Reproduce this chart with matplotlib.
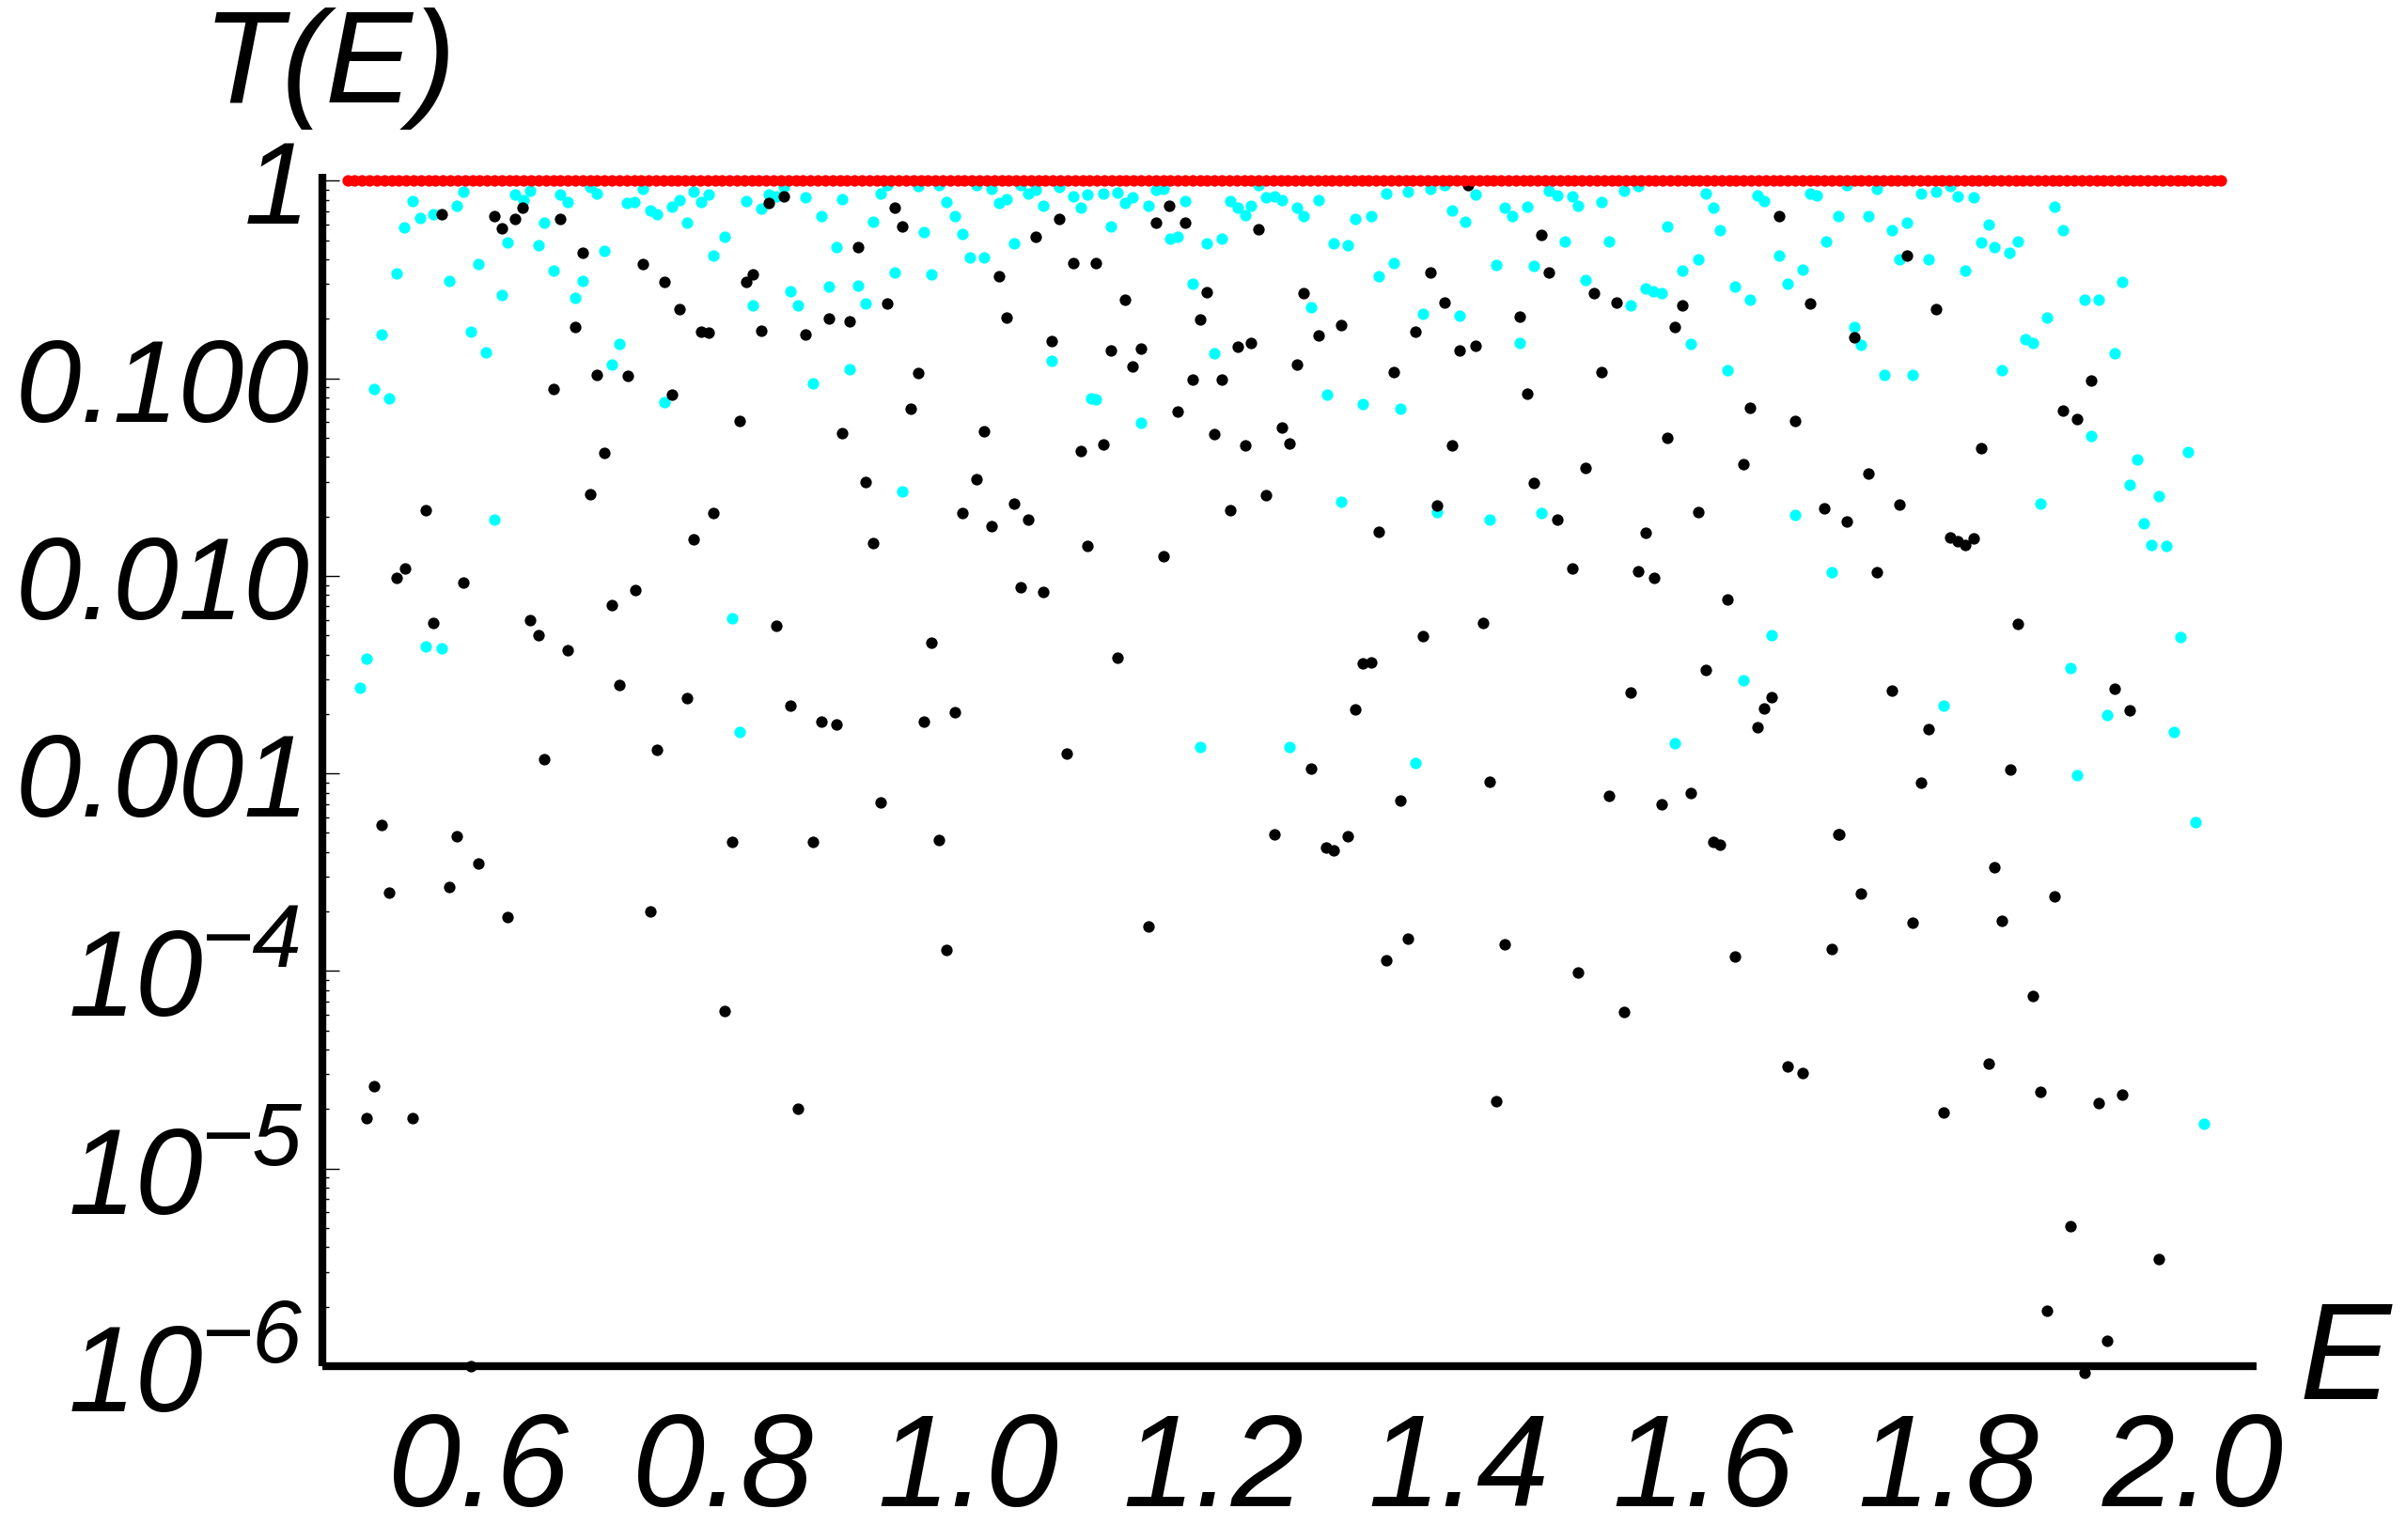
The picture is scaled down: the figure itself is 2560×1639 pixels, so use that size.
import matplotlib
matplotlib.use("Agg")
import matplotlib.pyplot as plt
import matplotlib.transforms as mtransforms
from matplotlib.ticker import FixedLocator, FixedFormatter, LogLocator, NullFormatter

# ---------------- data ----------------
# red series: T(E) = 1 on the full energy grid
red_E = [
    0.493, 0.499, 0.505, 0.511, 0.517, 0.523, 0.529, 0.535, 0.541, 0.547, 0.553, 0.559, 0.565, 0.571, 0.577, 0.583,
    0.589, 0.595, 0.601, 0.607, 0.613, 0.619, 0.625, 0.631, 0.637, 0.643, 0.649, 0.655, 0.661, 0.667, 0.673, 0.679,
    0.685, 0.691, 0.697, 0.703, 0.709, 0.715, 0.721, 0.727, 0.733, 0.739, 0.745, 0.751, 0.757, 0.763, 0.769, 0.775,
    0.781, 0.787, 0.793, 0.799, 0.805, 0.811, 0.817, 0.823, 0.829, 0.835, 0.841, 0.847, 0.853, 0.859, 0.865, 0.871,
    0.877, 0.883, 0.889, 0.895, 0.901, 0.907, 0.913, 0.919, 0.925, 0.931, 0.937, 0.943, 0.949, 0.955, 0.961, 0.967,
    0.973, 0.979, 0.985, 0.991, 0.997, 1.003, 1.009, 1.015, 1.021, 1.027, 1.033, 1.039, 1.045, 1.051, 1.057, 1.063,
    1.069, 1.075, 1.081, 1.087, 1.093, 1.099, 1.105, 1.111, 1.117, 1.123, 1.129, 1.135, 1.141, 1.147, 1.153, 1.159,
    1.165, 1.171, 1.177, 1.183, 1.189, 1.195, 1.201, 1.207, 1.213, 1.219, 1.225, 1.231, 1.237, 1.243, 1.249, 1.255,
    1.261, 1.267, 1.273, 1.279, 1.285, 1.291, 1.297, 1.303, 1.309, 1.315, 1.321, 1.327, 1.333, 1.339, 1.345, 1.351,
    1.357, 1.363, 1.369, 1.375, 1.381, 1.387, 1.393, 1.399, 1.405, 1.411, 1.417, 1.423, 1.429, 1.435, 1.441, 1.447,
    1.453, 1.459, 1.465, 1.471, 1.477, 1.483, 1.489, 1.495, 1.501, 1.507, 1.513, 1.519, 1.525, 1.531, 1.537, 1.543,
    1.549, 1.555, 1.561, 1.567, 1.573, 1.579, 1.585, 1.591, 1.597, 1.603, 1.609, 1.615, 1.621, 1.627, 1.633, 1.639,
    1.645, 1.651, 1.657, 1.663, 1.669, 1.675, 1.681, 1.687, 1.693, 1.699, 1.705, 1.711, 1.717, 1.723, 1.729, 1.735,
    1.741, 1.747, 1.753, 1.759, 1.765, 1.771, 1.777, 1.783, 1.789, 1.795, 1.801, 1.807, 1.813, 1.819, 1.825, 1.831,
    1.837, 1.843, 1.849, 1.855, 1.861, 1.867, 1.873, 1.879, 1.885, 1.891, 1.897, 1.903, 1.909, 1.915, 1.921, 1.927,
    1.933, 1.939, 1.945, 1.951, 1.957, 1.963, 1.969, 1.975, 1.981, 1.987, 1.993, 1.999, 2.005, 2.011, 2.017, 2.023,
]
red_T = [1.0] * len(red_E)

# black series (E, T)
black_pts = [
    (0.570, 0.68), (0.613, 0.66), (0.619, 0.575), (0.630, 0.64), (0.636, 0.73), (0.667, 0.64),
    (0.685, 0.43), (0.734, 0.38), (0.752, 0.306), (0.764, 0.223), (0.679, 0.182), (0.782, 0.172),
    (0.788, 0.170), (0.697, 0.104), (0.722, 0.103), (0.661, 0.0886), (0.758, 0.083), (0.703, 0.0418),
    (0.691, 0.026), (0.557, 0.0215), (0.792, 0.0207), (0.776, 0.0153), (0.540, 0.0109), (0.533, 0.0098),
    (0.588, 0.0093), (0.728, 0.0085), (0.709, 0.0071), (0.563, 0.0058), (0.642, 0.0060), (0.649, 0.0050),
    (0.673, 0.0042), (0.715, 0.0028), (0.770, 0.0024), (0.746, 0.00132), (0.654, 0.00118),
    (0.521, 5.5e-4), (0.582, 4.8e-4), (0.600, 3.5e-4), (0.527, 2.5e-4), (0.576, 2.65e-4), (0.624, 1.87e-4),
    (0.740, 2.0e-4), (0.515, 2.6e-5), (0.509, 1.8e-5), (0.546, 1.8e-5), (0.594, 1.0e-6),
    (0.837, 0.77), (0.849, 0.83), (0.940, 0.73), (0.946, 0.59), (0.910, 0.46), (1.074, 0.64),
    (1.055, 0.52), (1.086, 0.385), (0.824, 0.336), (0.819, 0.306), (1.025, 0.33), (0.934, 0.239),
    (0.886, 0.20), (0.903, 0.194), (1.031, 0.204), (0.831, 0.174), (0.867, 0.166), (1.068, 0.154),
    (0.959, 0.106), (0.953, 0.070), (0.813, 0.061), (0.897, 0.053), (1.013, 0.054), (1.092, 0.043),
    (0.916, 0.0298), (1.007, 0.0307), (1.037, 0.0231), (0.995, 0.0208), (1.049, 0.0193), (1.019, 0.0178),
    (0.922, 0.0147), (1.097, 0.0142), (1.043, 0.0088), (1.061, 0.0083), (0.843, 0.0056), (0.970, 0.0046),
    (0.855, 0.0022), (0.880, 0.00182), (0.892, 0.00178), (0.964, 0.00183), (0.989, 0.00205), (1.080, 0.00126),
    (0.928, 7.1e-4), (0.807, 4.5e-4), (0.873, 4.5e-4), (0.976, 4.6e-4), (0.982, 1.28e-4), (0.801, 6.3e-5),
    (0.861, 2.0e-5),
    (1.164, 0.75), (1.153, 0.615), (1.177, 0.615), (1.237, 0.57), (1.104, 0.385), (1.128, 0.25),
    (1.195, 0.274), (1.274, 0.27), (1.189, 0.198), (1.304, 0.185), (1.286, 0.164), (1.377, 0.345),
    (1.389, 0.243), (1.365, 0.172), (1.401, 0.138), (1.116, 0.138), (1.141, 0.141), (1.134, 0.115),
    (1.220, 0.144), (1.231, 0.151), (1.268, 0.117), (1.183, 0.0986), (1.207, 0.0986), (1.347, 0.108),
    (1.171, 0.068), (1.201, 0.052), (1.226, 0.046), (1.256, 0.0565), (1.262, 0.047), (1.110, 0.0465),
    (1.395, 0.0457), (1.243, 0.0255), (1.214, 0.0215), (1.383, 0.0228), (1.335, 0.0167), (1.159, 0.0126),
    (1.371, 0.00495), (1.122, 0.00385), (1.322, 0.0036), (1.329, 0.00365), (1.316, 0.0021),
    (1.280, 1.06e-3), (1.353, 7.3e-4), (1.250, 4.9e-4), (1.310, 4.8e-4), (1.292, 4.2e-4), (1.298, 4.1e-4),
    (1.147, 1.69e-4), (1.359, 1.46e-4), (1.341, 1.13e-4),
    (1.408, 0.95), (1.468, 0.53), (1.474, 0.345), (1.511, 0.27), (1.529, 0.243), (1.583, 0.235),
    (1.662, 0.66), (1.687, 0.24), (1.450, 0.205), (1.577, 0.182), (1.414, 0.146), (1.517, 0.108),
    (1.456, 0.0836), (1.638, 0.071), (1.675, 0.061), (1.571, 0.050), (1.504, 0.035), (1.633, 0.0366),
    (1.462, 0.0294), (1.481, 0.0193), (1.596, 0.021), (1.699, 0.0219), (1.553, 0.0165), (1.493, 0.0109),
    (1.547, 0.0106), (1.560, 0.0098), (1.620, 0.0076), (1.420, 0.00575), (1.602, 0.00333), (1.541, 0.00256),
    (1.656, 0.00243), (1.650, 0.00214), (1.644, 0.00172),
    (1.426, 9.1e-4), (1.523, 7.7e-4), (1.566, 7.0e-4), (1.590, 8.0e-4), (1.608, 4.5e-4), (1.614, 4.35e-4),
    (1.710, 4.9e-4), (1.438, 1.36e-4), (1.498, 9.8e-5), (1.535, 6.2e-5), (1.626, 1.19e-4), (1.705, 1.29e-4),
    (1.669, 3.3e-5), (1.681, 3.04e-5), (1.431, 2.2e-5),
    (1.766, 0.42), (1.790, 0.223), (1.723, 0.161), (1.917, 0.097), (1.894, 0.0687), (1.905, 0.0623),
    (1.827, 0.0445), (1.735, 0.0329), (1.760, 0.0229), (1.717, 0.0189), (1.802, 0.0156), (1.808, 0.015),
    (1.814, 0.0143), (1.821, 0.0154), (1.742, 0.0104), (1.857, 0.0057), (1.754, 0.00264), (1.784, 0.00168),
    (1.936, 0.00267), (1.948, 0.00209),
    (1.851, 1.05e-3), (1.778, 9.0e-4), (1.711, 4.9e-4), (1.838, 3.36e-4), (1.729, 2.48e-4), (1.887, 2.4e-4),
    (1.771, 1.75e-4), (1.844, 1.8e-4), (1.869, 7.5e-5), (1.833, 3.4e-5), (1.875, 2.45e-5), (1.923, 2.14e-5),
    (1.942, 2.37e-5), (1.796, 1.92e-5), (1.900, 5.1e-6), (1.972, 3.5e-6), (1.881, 1.91e-6), (1.930, 1.35e-6),
    (1.911, 9.3e-7),
]

# cyan series (E, T)
cyan_pts = [
    (0.546, 0.79), (0.539, 0.58), (0.552, 0.65), (0.563, 0.68), (0.582, 0.75), (0.588, 0.88),
    (0.630, 0.85), (0.637, 0.80), (0.642, 0.89), (0.654, 0.61), (0.667, 0.85), (0.673, 0.78),
    (0.691, 0.93), (0.697, 0.86), (0.721, 0.77), (0.727, 0.78), (0.734, 0.91), (0.740, 0.71),
    (0.746, 0.68), (0.758, 0.74), (0.764, 0.80), (0.770, 0.61), (0.776, 0.88), (0.782, 0.78),
    (0.788, 0.85), (0.624, 0.485), (0.649, 0.47), (0.703, 0.44), (0.792, 0.42), (0.600, 0.38),
    (0.533, 0.34), (0.576, 0.31), (0.661, 0.35), (0.685, 0.31), (0.619, 0.265), (0.679, 0.254),
    (0.521, 0.166), (0.594, 0.172), (0.606, 0.135), (0.715, 0.149), (0.709, 0.117), (0.515, 0.0886),
    (0.527, 0.079), (0.752, 0.076), (0.613, 0.0193), (0.557, 0.0044), (0.570, 0.0043), (0.509, 0.0038),
    (0.503, 0.0027),
    (0.801, 0.52), (0.819, 0.79), (0.831, 0.72), (0.837, 0.85), (0.843, 0.83), (0.849, 0.925),
    (0.867, 0.82), (0.880, 0.66), (0.892, 0.46), (0.897, 0.81), (0.922, 0.62), (0.928, 0.86),
    (0.934, 0.95), (0.959, 0.94), (0.964, 0.55), (0.976, 0.95), (0.982, 0.78), (0.989, 0.66),
    (0.995, 0.54), (1.001, 0.41), (1.013, 0.41), (1.007, 0.95), (1.019, 0.91), (1.025, 0.77),
    (1.031, 0.81), (1.037, 0.48), (1.043, 0.95), (1.049, 0.86), (1.055, 0.90), (1.061, 0.75),
    (1.074, 0.925), (1.086, 0.83), (1.092, 0.73), (1.097, 0.85), (0.940, 0.345), (0.970, 0.334),
    (0.855, 0.277), (0.886, 0.29), (0.910, 0.294), (0.824, 0.235), (0.861, 0.233), (0.916, 0.239),
    (1.068, 0.122), (0.903, 0.111), (0.873, 0.094), (1.100, 0.079), (0.946, 0.0267), (0.807, 0.0061),
    (0.813, 0.00162),
    (1.110, 0.865), (1.122, 0.87), (1.128, 0.77), (1.134, 0.82), (1.147, 0.75), (1.153, 0.90),
    (1.159, 0.91), (1.116, 0.59), (1.165, 0.51), (1.171, 0.52), (1.177, 0.79), (1.195, 0.48),
    (1.207, 0.51), (1.214, 0.79), (1.220, 0.73), (1.226, 0.67), (1.231, 0.75), (1.237, 0.95),
    (1.243, 0.82), (1.250, 0.83), (1.256, 0.80), (1.268, 0.73), (1.274, 0.66), (1.286, 0.80),
    (1.298, 0.48), (1.310, 0.47), (1.316, 0.64), (1.329, 0.66), (1.341, 0.86), (1.359, 0.88),
    (1.377, 0.91), (1.389, 0.95), (1.395, 0.71), (1.406, 0.62), (1.183, 0.30), (1.280, 0.228),
    (1.335, 0.33), (1.347, 0.385), (1.371, 0.213), (1.401, 0.207), (1.201, 0.134), (1.104, 0.0785),
    (1.141, 0.0596), (1.293, 0.083), (1.322, 0.074), (1.353, 0.070), (1.304, 0.0237), (1.383, 0.021),
    (1.189, 0.00136), (1.262, 0.00136), (1.365, 0.00113),
    (1.414, 0.855), (1.438, 0.73), (1.444, 0.66), (1.456, 0.74), (1.474, 0.885), (1.481, 0.84),
    (1.493, 0.83), (1.498, 0.75), (1.517, 0.78), (1.535, 0.89), (1.547, 0.94), (1.571, 0.59),
    (1.602, 0.86), (1.608, 0.73), (1.614, 0.56), (1.644, 0.84), (1.650, 0.79), (1.687, 0.865),
    (1.693, 0.84), (1.710, 0.66), (1.700, 0.49), (1.487, 0.49), (1.523, 0.49), (1.431, 0.375),
    (1.462, 0.37), (1.504, 0.315), (1.553, 0.284), (1.559, 0.277), (1.566, 0.27), (1.541, 0.235),
    (1.583, 0.35), (1.596, 0.40), (1.626, 0.29), (1.638, 0.25), (1.662, 0.42), (1.681, 0.356),
    (1.669, 0.30), (1.450, 0.151), (1.590, 0.150), (1.620, 0.110), (1.426, 0.0193), (1.468, 0.0207),
    (1.675, 0.0203), (1.705, 0.0104), (1.656, 0.0050), (1.633, 0.00296), (1.577, 0.00143),
    (1.717, 0.95), (1.742, 0.905), (1.735, 0.66), (1.754, 0.56), (1.766, 0.61), (1.760, 0.40),
    (1.778, 0.86), (1.790, 0.88), (1.802, 0.94), (1.808, 0.835), (1.821, 0.82), (1.784, 0.40),
    (1.814, 0.35), (1.833, 0.60), (1.827, 0.485), (1.838, 0.46), (1.850, 0.43), (1.857, 0.49),
    (1.887, 0.74), (1.894, 0.56), (1.942, 0.306), (1.911, 0.25), (1.923, 0.25), (1.881, 0.204),
    (1.723, 0.182), (1.729, 0.148), (1.863, 0.158), (1.869, 0.151), (1.936, 0.134), (1.748, 0.104),
    (1.771, 0.104), (1.844, 0.110), (1.917, 0.0508), (1.954, 0.039), (1.996, 0.0425), (1.948, 0.0288),
    (1.972, 0.0253), (1.960, 0.0184), (1.966, 0.0143), (1.978, 0.0142), (1.875, 0.0231), (1.990, 0.0049),
    (1.900, 0.0034), (1.796, 0.0022), (1.930, 0.00198), (1.984, 0.00162),
    (1.905, 9.8e-4), (2.002, 5.7e-4), (2.009, 1.68e-5),
]

black_E = [p[0] for p in black_pts]
black_T = [p[1] for p in black_pts]
cyan_E = [p[0] for p in cyan_pts]
cyan_T = [p[1] for p in cyan_pts]

x_ticks = [0.6, 0.8, 1.0, 1.2, 1.4, 1.6, 1.8, 2.0]
x_labels = ["0.6", "0.8", "1.0", "1.2", "1.4", "1.6", "1.8", "2.0"]
y_ticks = [1e-6, 1e-5, 1e-4, 1e-3, 1e-2, 1e-1, 1.0]
y_labels = ["", "", "", "0.001", "0.010", "0.100", "1"]
# power-of-ten labels: tick value and exponent text
pow_ticks = [1e-6, 1e-5, 1e-4]
pow_exps = ["\u22126", "\u22125", "\u22124"]

# ---------------- style ----------------
plt.rcParams["font.family"] = ["Liberation Sans", "DejaVu Sans"]
plt.rcParams["font.style"] = "italic"

W, H = 2560, 1640
fig = plt.figure(figsize=(W / 100, H / 100), dpi=100)
ax = fig.add_axes([0.134, 0.1128, 0.804, 0.7738])

ms = 78
ax.scatter(cyan_E, cyan_T, s=ms, color="#00FFFF", linewidths=0, zorder=1.0, clip_on=False)
ax.scatter(black_E, black_T, s=ms, color="black", linewidths=0, zorder=1.1, clip_on=False)
ax.scatter(red_E, red_T, s=ms, color="#FF0000", linewidths=0, zorder=1.2, clip_on=False)

ax.set_yscale("log")
ax.set_xlim(0.4726, 2.052)
ax.set_ylim(1e-6, 1.084)

for side in ("top", "right"):
    ax.spines[side].set_visible(False)
for side in ("left", "bottom"):
    ax.spines[side].set_linewidth(6)
    ax.spines[side].set_capstyle("butt")

ax.xaxis.set_major_locator(FixedLocator(x_ticks))
ax.xaxis.set_major_formatter(FixedFormatter(x_labels))
ax.xaxis.set_minor_locator(FixedLocator([]))
ax.tick_params(axis="x", which="both", length=0, pad=34, labelsize=100)

ax.yaxis.set_major_locator(FixedLocator(y_ticks))
ax.yaxis.set_major_formatter(FixedFormatter(y_labels))
ax.yaxis.set_minor_locator(LogLocator(base=10, subs=[2, 3, 4, 5, 6, 7, 8, 9], numticks=20))
ax.yaxis.set_minor_formatter(NullFormatter())
ax.tick_params(axis="y", which="major", direction="in", length=13, width=1.0, pad=10, labelsize=90)
ax.tick_params(axis="y", which="minor", direction="in", length=5, width=1.0)

# 10^n labels: "10" centred on the tick, exponent raised to its right
blend = mtransforms.blended_transform_factory(fig.transFigure, ax.transData)
t_main = mtransforms.offset_copy(blend, fig=fig, x=0, y=-47, units="dots")
t_sup = mtransforms.offset_copy(blend, fig=fig, x=0, y=5, units="dots")
for val, ex in zip(pow_ticks, pow_exps):
    ax.text(216 / W, val, "10", transform=t_main, ha="right", va="baseline",
            fontsize=93, style="italic", clip_on=False)
    ax.text(214 / W, val, ex, transform=t_sup, ha="left", va="baseline",
            fontsize=68, style="italic", clip_on=False)

fig.text(0.137, 0.9555, "T(E)", fontsize=100, style="italic", ha="center", va="center")
fig.text(0.9746, 0.1152, "E", fontsize=105, style="italic", ha="center", va="center")

fig.savefig("out.png", dpi=100, facecolor="white")
